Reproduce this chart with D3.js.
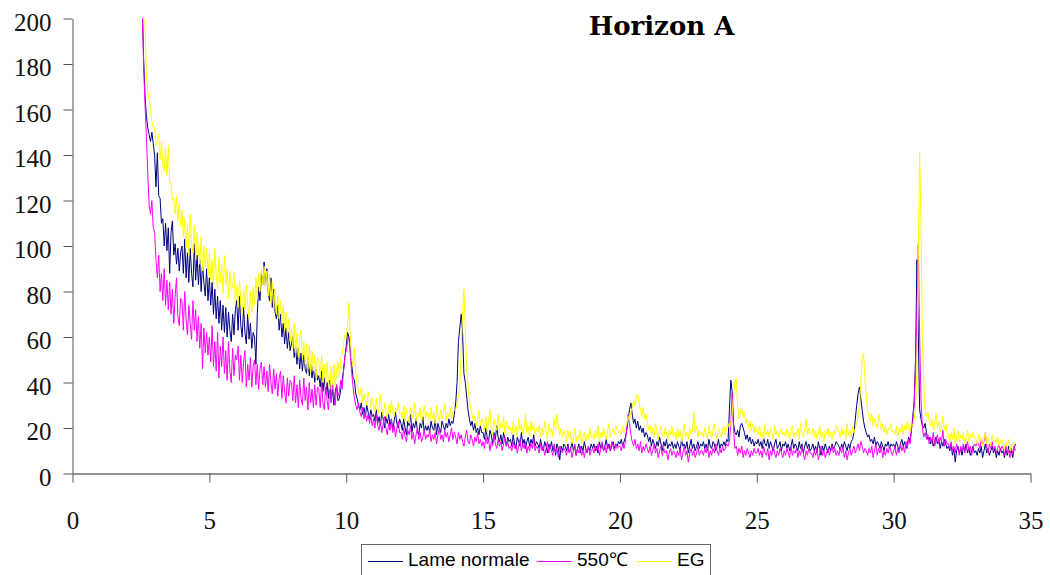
<!DOCTYPE html>
<html>
<head>
<meta charset="utf-8">
<script src="https://cdn.jsdelivr.net/npm/d3@7"></script>
<style>
  html, body { margin: 0; padding: 0; background: #fff; }
  svg { display: block; }
</style>
</head>
<body>
<svg id="chart" width="1050" height="575"></svg>
<script>
// ---- DATA ----
const title = "Horizon A";
const seriesNames = ["Lame normale", "550\u2103", "EG"];
const seriesColors = ["#000080", "#FF00FF", "#FFFF00"];
const xStart = 2.55;   // first 2-theta value
const xStep = 0.05;    // 2-theta step
const xTicks = [0, 5, 10, 15, 20, 25, 30, 35];
const yTicks = [0, 20, 40, 60, 80, 100, 120, 140, 160, 180, 200];

const lameNormale = [
205,182,166,157,152,149,146,150,145,
140,126,141,122,121,110,112,100,110,98,108,88,106,111,96,101,92,99,89,97,
100,88,103,86,97,84,99,88,82,101,85,96,83,94,80,92,84,78,90,76,
86,74,84,70,81,68,78,66,76,63,74,62,73,60,71,63,58,70,61,72,
76,63,78,65,60,73,62,57,70,59,66,55,62,60,48,70,82,76,88,83,
93,82,90,79,76,86,73,81,71,68,74,63,70,60,66,57,64,55,62,54,
57,60,51,56,48,55,46,53,45,52,46,44,51,43,48,42,47,40,46,41,
43,38,45,36,42,35,40,33,41,32,37,30,36,39,32,33,37,41,45,51,
56,62,60,55,48,42,41,35,33,30,28,31,26,29,25,30,27,24,28,25,
26,23,28,22,25,21,27,24,20,25,22,26,21,24,19,23,27,22,20,24,
22,19,24,20,17,23,21,26,18,22,20,24,19,17,22,20,25,18,21,19,
21,18,23,20,19,24,17,22,20,18,23,21,19,22,20,24,21,23,22,26,
31,40,58,64,70,62,44,40,34,28,24,21,23,19,22,18,20,17,21,18,
18,15,20,16,14,19,17,13,18,15,21,16,14,17,13,18,15,12,16,14,
15,12,17,13,11,16,14,12,18,13,15,11,14,16,12,15,13,17,12,14,
13,11,15,12,10,14,12,9,13,11,14,10,12,8,13,11,6,12,10,13,
12,10,13,9,11,14,10,12,8,11,13,9,12,10,14,11,9,12,10,13,
11,13,10,12,9,14,11,13,10,12,15,11,13,10,12,14,11,13,12,14,
13,15,12,14,16,19,24,28,31,26,22,24,20,23,19,21,18,20,16,18,
17,14,16,12,15,13,11,14,12,16,13,10,14,12,15,11,13,12,14,11,
13,11,14,12,10,15,12,13,11,14,9,12,15,11,13,10,12,14,11,13,
12,14,11,13,10,15,12,11,14,13,10,12,15,11,13,12,14,12,15,14,
28,41,36,22,18,17,19,16,21,22,20,18,15,17,14,16,13,15,12,14,
13,15,12,14,11,16,13,12,15,11,14,12,10,13,15,11,12,14,10,13,
12,14,11,13,10,12,15,11,13,12,10,14,11,13,9,12,14,11,13,10,
11,13,10,12,9,14,11,8,12,10,13,11,9,12,10,13,11,12,14,13,
12,10,13,11,14,12,10,13,11,14,15,18,24,30,35,38,33,28,23,20,
18,16,17,14,15,13,16,12,14,13,11,14,12,10,13,12,14,11,13,12,
13,11,14,12,10,13,15,12,14,11,13,16,14,19,25,32,50,94,62,28,
24,21,20,22,18,15,16,13,15,12,14,16,13,15,11,14,12,15,13,11,
12,10,13,8,11,5,10,12,9,11,8,12,10,13,9,11,8,10,12,9,
10,8,11,9,12,7,10,13,9,11,8,10,12,9,11,7,10,8,11,9,
10,7,11,8,12,9,10,7,11,13
];

const c550 = [
205,178,162,148,132,118,114,120,108,
106,94,86,96,80,88,76,90,74,85,72,84,70,81,66,78,86,69,65,77,
76,63,80,68,61,74,66,59,76,63,72,58,69,55,66,46,64,53,62,52,
60,49,65,47,58,45,62,42,56,47,60,44,54,41,58,45,40,55,43,52,
50,56,41,52,40,49,54,38,48,41,51,38,47,50,39,48,37,46,49,39,
47,38,45,36,48,40,35,46,37,44,34,42,45,33,43,36,31,42,34,41,
40,32,43,31,39,29,41,33,30,42,32,38,28,40,31,37,29,39,30,38,
37,29,40,31,28,39,32,28,38,31,40,33,30,39,34,36,41,37,45,51,
54,58,60,52,44,38,33,30,28,31,27,25,29,24,27,23,26,22,25,21,
24,20,26,21,19,23,18,22,25,20,17,22,19,24,18,21,16,20,23,18,
18,15,20,16,14,19,17,21,15,18,13,17,20,15,18,14,16,19,15,17,
16,19,14,17,15,18,13,17,20,15,17,14,19,16,18,14,17,20,15,18,
16,13,18,15,17,14,12,16,19,14,13,17,15,12,16,14,18,13,15,12,
14,11,16,13,15,10,14,12,17,13,11,15,12,14,10,13,16,12,14,11,
12,10,14,11,13,9,12,15,10,13,11,14,9,12,10,13,11,15,10,12,
11,9,13,10,12,8,11,14,9,12,10,8,13,9,11,7,12,10,9,11,
10,8,12,9,11,7,10,13,8,11,9,12,8,10,7,11,9,12,8,10,
11,9,12,10,13,8,11,14,10,12,9,13,11,10,14,12,10,13,11,12,
12,10,13,11,14,20,26,22,17,14,12,15,11,13,10,14,9,12,10,13,
11,9,12,8,10,13,9,11,7,10,12,8,11,9,10,6,9,11,8,10,
9,7,10,8,11,6,9,12,8,10,5,9,11,8,10,7,9,12,8,10,
10,8,11,9,12,7,10,8,11,9,13,10,8,11,9,12,10,11,13,12,
14,22,35,20,11,12,8,11,9,12,7,10,8,11,9,7,10,8,11,9,
9,11,8,10,7,12,9,8,11,6,10,8,12,9,7,10,8,11,9,7,
10,8,11,9,7,12,8,10,9,11,7,10,8,12,9,6,10,8,11,9,
9,7,10,8,11,6,9,12,8,10,7,9,11,8,10,12,9,11,8,10,
8,11,9,12,7,10,6,9,11,8,10,12,9,11,13,10,14,12,9,11,
10,8,11,9,12,7,10,13,8,11,9,12,7,10,8,11,9,12,10,8,
10,12,8,11,9,13,10,12,9,14,11,15,13,20,23,30,45,70,101,60,
32,20,16,18,15,17,13,16,14,18,12,15,17,13,16,14,19,12,15,13,
13,11,14,10,12,9,13,11,8,12,10,13,9,11,14,10,12,8,11,13,
12,14,13,11,15,13,14,18,12,9,13,11,14,10,12,9,11,13,10,12,
11,8,12,9,10,7,11,9,12,10
];

const eg = [
240,220,198,175,168,164,160,155,152,
152,144,146,149,138,146,136,133,143,131,144,128,128,120,121,114,122,111,119,109,
116,104,112,99,110,96,114,101,97,109,94,106,98,92,104,89,100,91,99,87,
97,85,94,83,99,87,81,95,84,92,79,96,83,90,77,89,81,82,88,75,
82,73,85,75,70,81,72,83,74,68,80,71,82,74,86,77,88,80,90,83,
91,82,89,78,87,75,84,72,81,70,78,68,76,66,74,63,71,60,68,58,
64,55,66,53,62,51,60,63,50,58,48,57,46,56,44,54,45,52,42,51,
50,42,52,40,48,38,49,41,37,47,39,48,38,46,49,42,51,52,57,61,
60,66,75,60,50,47,55,44,39,36,34,38,31,35,32,30,36,33,29,33,
30,27,33,26,29,35,28,25,31,27,24,30,26,32,28,25,29,27,31,26,
27,24,30,23,28,25,22,29,26,24,31,23,27,25,29,22,26,30,24,27,
26,23,29,24,27,22,30,25,23,28,24,26,31,23,27,25,29,24,27,28,
28,31,34,38,55,70,81,64,46,38,32,29,26,23,25,21,24,28,21,24,
22,19,25,18,23,28,20,17,24,21,19,26,18,22,20,25,17,23,19,21,
20,17,23,18,21,16,24,19,22,17,20,26,18,21,16,23,19,22,17,20,
18,21,16,20,17,23,19,15,22,18,20,16,24,19,26,21,17,20,16,19,
17,14,19,15,18,13,16,20,14,17,15,19,13,16,18,14,17,15,20,16,
17,15,19,16,21,14,18,16,20,17,15,19,22,16,18,20,17,21,19,18,
19,17,21,18,20,22,25,23,27,29,32,30,34,35,31,28,25,29,24,26,
23,19,21,17,20,16,22,18,15,19,21,17,16,20,18,15,19,17,21,16,
18,15,20,16,19,14,17,22,16,18,15,20,17,19,27,18,21,16,19,17,
18,16,20,17,15,21,18,16,19,22,17,15,20,18,16,19,21,17,20,22,
20,22,26,34,40,42,30,24,27,29,25,27,22,24,20,23,19,22,18,21,
19,17,21,16,18,15,22,17,19,16,20,18,15,21,17,19,16,18,20,17,
18,16,20,17,15,19,21,16,18,17,20,15,22,18,16,19,24,17,20,18,
17,20,16,19,15,18,21,16,18,14,19,17,20,16,18,15,19,17,21,20,
18,16,20,17,19,15,22,17,19,16,21,18,20,22,25,30,40,50,53,42,
34,28,25,23,26,21,24,22,20,26,23,19,22,18,21,17,20,19,22,18,
19,17,21,16,20,18,22,17,21,19,23,20,18,22,21,24,28,45,95,141,
110,58,40,28,25,27,23,21,24,19,22,26,20,23,18,21,25,19,22,18,
17,14,18,15,20,13,16,19,14,17,15,18,13,16,19,14,17,15,18,16,
15,13,17,14,16,12,15,18,13,16,14,12,17,14,15,13,16,12,14,15,
13,11,14,12,15,10,13,12,14,13
];

// ---- CHART ----
const seriesValues = [lameNormale, c550, eg];
const svg = d3.select("#chart");
const W = 1050, H = 575;
const plot = { left: 72.5, right: 1030.5, top: 18.5, bottom: 473.5 };

const x = d3.scaleLinear().domain([0, 35]).range([plot.left, plot.right]);
const y = d3.scaleLinear().domain([0, 200]).range([plot.bottom, plot.top]);

svg.append("rect").attr("width", W).attr("height", H).attr("fill", "#fff");

svg.append("defs").append("clipPath").attr("id", "plotclip")
  .append("rect")
  .attr("x", plot.left).attr("y", plot.top)
  .attr("width", plot.right - plot.left).attr("height", plot.bottom - plot.top);

const line = d3.line()
  .x((d, i) => x(xStart + i * xStep))
  .y(d => y(d));

const lines = svg.append("g").attr("clip-path", "url(#plotclip)");
seriesValues.forEach((vals, k) => {
  lines.append("path")
    .datum(vals)
    .attr("fill", "none")
    .attr("stroke", seriesColors[k])
    .attr("stroke-width", 1)
    .attr("stroke-linejoin", "round")
    .attr("d", line);
});

// Axes
const tickFont = "'Liberation Serif', 'Times New Roman', serif";
const xAxis = svg.append("g")
  .attr("transform", `translate(0,${plot.bottom})`)
  .call(d3.axisBottom(x).tickValues(xTicks).tickSize(9).tickPadding(29).tickSizeOuter(0));
xAxis.select(".domain").attr("stroke", "#222").attr("stroke-width", 1);
xAxis.selectAll(".tick line").attr("stroke", "#555");
xAxis.selectAll(".tick text")
  .attr("font-family", tickFont).attr("font-size", 25).attr("fill", "#111");

const yAxis = svg.append("g")
  .attr("transform", `translate(${plot.left},0)`)
  .call(d3.axisLeft(y).tickValues(yTicks).tickSize(9).tickPadding(12).tickSizeOuter(0));
yAxis.select(".domain").attr("stroke", "#555").attr("stroke-width", 1);
yAxis.selectAll(".tick line").attr("stroke", "#555");
yAxis.selectAll(".tick text")
  .attr("font-family", tickFont).attr("font-size", 25).attr("fill", "#111")
  .attr("dy", "0.46em");

// Title
svg.append("text")
  .attr("x", 661.5).attr("y", 35)
  .attr("text-anchor", "middle")
  .attr("font-family", "'DejaVu Serif', serif")
  .attr("font-weight", "bold")
  .attr("font-size", 26)
  .attr("fill", "#000")
  .text(title);

// Legend
const legend = svg.append("g");
legend.append("rect")
  .attr("x", 361.5).attr("y", 544.5)
  .attr("width", 349).attr("height", 45)
  .attr("fill", "#fff").attr("stroke", "#666").attr("stroke-width", 1);
const legItems = [
  { lx: 368, tx: 408 },
  { lx: 537, tx: 577 },
  { lx: 637, tx: 677 }
];
legItems.forEach((it, k) => {
  legend.append("line")
    .attr("x1", it.lx).attr("x2", it.lx + 35)
    .attr("y1", 561.5).attr("y2", 561.5)
    .attr("stroke", seriesColors[k]).attr("stroke-width", 1);
  legend.append("text")
    .attr("x", it.tx).attr("y", 566)
    .attr("font-family", "'Liberation Sans', Arial, sans-serif")
    .attr("font-size", 19)
    .attr("fill", "#000")
    .text(seriesNames[k]);
});
</script>
</body>
</html>
